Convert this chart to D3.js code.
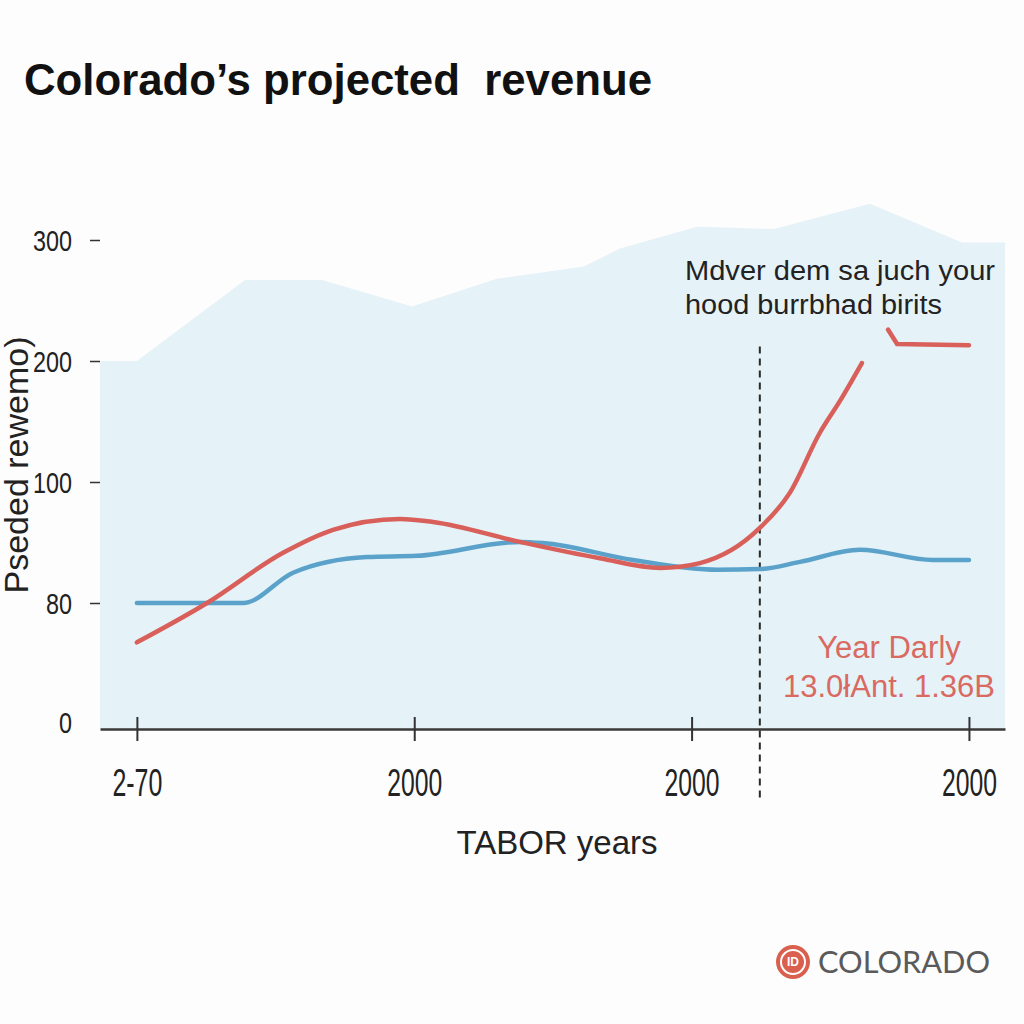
<!DOCTYPE html>
<html><head><meta charset="utf-8">
<script src="https://cdn.jsdelivr.net/npm/d3@7"></script>
<style>body{margin:0;background:#fdfdfd}svg{display:block}text{white-space:pre}</style>
</head><body>
<script>
// ---- data ----
const title = "Colorado’s projected  revenue";
const yLabel = "Pseded rewemo)";
const xLabel = "TABOR years";
const yTickValues = [0, 80, 100, 200, 300];
const yTickLabels = ["0", "80", "100", "200", "300"];
const xTickValues = [0, 1, 2, 3];
const xTickLabels = ["2-70", "2000", "2000", "2000"];

const bandX = [-0.133, 0, 0.39, 0.668, 0.992, 1.298, 1.612, 1.742, 2.02, 2.297, 2.643, 2.975, 3.13];
const bandY = [200, 200, 267, 267, 245, 268, 278, 293, 311, 309, 330, 298, 298];

const blueX = [0, 0.383, 0.563, 0.829, 1.01, 1.381, 1.464, 1.789, 2.092, 2.246, 2.391, 2.607, 2.87, 3.0];
const blueY = [80, 80, 85, 87.6, 87.8, 90.1, 89.9, 87.1, 85.5, 85.6, 86.8, 88.8, 87.1, 87.1];

const redX = [0, 0.253, 0.527, 0.707, 0.949, 1.068, 1.381, 1.669, 1.886, 2.03, 2.246, 2.354, 2.462, 2.535, 2.614];
const redY = [55, 80, 88.3, 92.1, 93.9, 93.4, 90.1, 87.4, 85.8, 86.6, 92.4, 98.2, 140.5, 167, 198.3];
const redTailX = [2.708, 2.741, 3.0];
const redTailY = [226, 214, 213];

const markerX = 2.246;
const markerSpan = [212, -45];
const noteLines = ["Mdver dem sa juch your", "hood burrbhad birits"];
const redNote = ["Year Darly", "13.0łAnt. 1.36B"];
const brand = "COLORADO";

// ---- chart ----
const W = 1024, H = 1024;
const svg = d3.select("body").append("svg").attr("width", W).attr("height", H);
svg.append("rect").attr("width", W).attr("height", H).attr("fill", "#fdfdfd");

const x = d3.scaleLinear().domain([-0.133, 3.13]).range([100, 1005]);
const y = d3.scaleLinear().domain(yTickValues).range([729, 603, 482, 361, 240]);

const bandData = bandX.map((v, i) => [v, bandY[i]]);
svg.append("path").datum(bandData)
  .attr("fill", "#e5f2f8")
  .attr("d", d3.area().x(d => x(d[0])).y0(y(0)).y1(d => y(d[1])));

// y axis
const yAxis = d3.axisLeft(y).tickValues(yTickValues)
  .tickFormat((d, i) => yTickLabels[i]).tickSize(10).tickPadding(18);
const gy = svg.append("g").attr("transform", `translate(${x(-0.133)},0)`).call(yAxis);
gy.select(".domain").remove();
gy.selectAll(".tick line").attr("stroke", "#333").attr("stroke-width", 1.5)
  .attr("opacity", d => d === 0 ? 0 : 1);
gy.selectAll(".tick text")
  .attr("font-family", "'Liberation Sans Narrow','Liberation Sans',Arial,sans-serif")
  .attr("font-size", 30).attr("fill", "#222")
  .attr("dy", d => d === 0 ? "0.1em" : "0.35em")
  .attr("textLength", d => String(d).length * 13).attr("lengthAdjust", "spacingAndGlyphs");

// x axis
const xAxis = d3.axisBottom(x).tickValues(xTickValues)
  .tickFormat((d, i) => xTickLabels[i]).tickSize(12).tickSizeOuter(0).tickPadding(28);
const gx = svg.append("g").attr("transform", `translate(0,${y(0)})`).call(xAxis);
gx.select(".domain").attr("stroke", "#3a3a3a").attr("stroke-width", 2.5);
gx.selectAll(".tick line").attr("y1", -12).attr("stroke", "#333").attr("stroke-width", 2);
gx.selectAll(".tick text")
  .attr("font-family", "'Liberation Sans Narrow','Liberation Sans',Arial,sans-serif")
  .attr("font-size", 38).attr("fill", "#222")
  .attr("textLength", (d, i) => xTickLabels[i] === "2-70" ? 50 : 55)
  .attr("lengthAdjust", "spacingAndGlyphs");

// marker line
svg.append("line")
  .attr("x1", x(markerX)).attr("x2", x(markerX))
  .attr("y1", y(markerSpan[0])).attr("y2", y(markerSpan[1]))
  .attr("stroke", "#2a2a2a").attr("stroke-width", 2).attr("stroke-dasharray", "7,5");

// lines
const line = d3.line().x(d => x(d[0])).y(d => y(d[1])).curve(d3.curveMonotoneX);
svg.append("path").datum(blueX.map((v, i) => [v, blueY[i]]))
  .attr("fill", "none").attr("stroke", "#5aa2ca").attr("stroke-width", 4.5)
  .attr("stroke-linecap", "round").attr("d", line);
svg.append("path").datum(redX.map((v, i) => [v, redY[i]]))
  .attr("fill", "none").attr("stroke", "#d9605a").attr("stroke-width", 4.5)
  .attr("stroke-linecap", "round").attr("d", line);
svg.append("path").datum(redTailX.map((v, i) => [v, redTailY[i]]))
  .attr("fill", "none").attr("stroke", "#d9605a").attr("stroke-width", 4.5)
  .attr("stroke-linecap", "round")
  .attr("d", d3.line().x(d => x(d[0])).y(d => y(d[1])));

// title
svg.append("text").attr("x", 24).attr("y", 95).text(title)
  .attr("font-family", "'Liberation Sans',Arial,sans-serif").attr("font-weight", "bold")
  .attr("font-size", 44).attr("fill", "#111")
  .attr("textLength", 628).attr("lengthAdjust", "spacingAndGlyphs");

// axis titles
svg.append("text").text(yLabel)
  .attr("transform", "translate(28,465) rotate(-90)")
  .attr("text-anchor", "middle")
  .attr("font-family", "'Liberation Sans',Arial,sans-serif")
  .attr("font-size", 34).attr("fill", "#222");
svg.append("text").text(xLabel).attr("x", 557).attr("y", 854)
  .attr("text-anchor", "middle")
  .attr("font-family", "'Liberation Sans',Arial,sans-serif")
  .attr("font-size", 33).attr("fill", "#222");

// note
noteLines.forEach((t, i) => {
  svg.append("text").text(t).attr("x", 685).attr("y", 280 + i * 34)
    .attr("font-family", "'Liberation Sans',Arial,sans-serif")
    .attr("font-size", 27).attr("fill", "#222")
    .attr("textLength", i === 0 ? 310 : 257).attr("lengthAdjust", "spacingAndGlyphs");
});
redNote.forEach((t, i) => {
  svg.append("text").text(t).attr("x", 889).attr("y", 658 + i * 39)
    .attr("text-anchor", "middle")
    .attr("font-family", "'Liberation Sans',Arial,sans-serif")
    .attr("font-size", 31).attr("fill", "#d96a62");
});

// brand
const bg = svg.append("g").attr("transform", "translate(793,962)");
bg.append("circle").attr("r", 17).attr("fill", "#d9604f");
bg.append("circle").attr("r", 12).attr("fill", "none").attr("stroke", "#fff").attr("stroke-width", 2);
bg.append("text").text("ID").attr("text-anchor", "middle").attr("dy", "0.35em")
  .attr("font-family", "'Liberation Sans',Arial,sans-serif").attr("font-weight", "bold")
  .attr("font-size", 12).attr("fill", "#fff");
svg.append("text").text(brand).attr("x", 818).attr("y", 973)
  .attr("font-family", "Lato,'Open Sans',sans-serif")
  .attr("font-size", 31).attr("fill", "#5a5a5a")
  .attr("textLength", 172).attr("lengthAdjust", "spacingAndGlyphs");
</script>
</body></html>
